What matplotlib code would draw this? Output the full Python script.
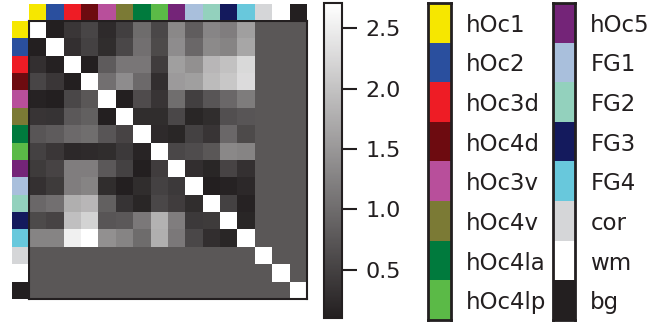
import numpy as np
import matplotlib
matplotlib.use('Agg')
import matplotlib.pyplot as plt
from matplotlib.colors import LinearSegmentedColormap, to_rgb

# region names and their colours (same order as the matrix rows/cols)
regions = ['hOc1', 'hOc2', 'hOc3d', 'hOc4d', 'hOc3v', 'hOc4v', 'hOc4la', 'hOc4lp',
           'hOc5', 'FG1', 'FG2', 'FG3', 'FG4', 'cor', 'wm', 'bg']
region_colors = ['#f6e700', '#2a4f9e', '#ee1c25', '#6d0b10', '#b84f9b', '#7b7a35',
                 '#007a3d', '#5bba47', '#742478', '#a9bfdc', '#93d1bd', '#141a5d',
                 '#68c8dc', '#d5d6d8', '#ffffff', '#231f20']

# pairwise values between the 13 cortical areas (diagonal empty)
nan = np.nan
area_values = [
    [nan, .10, .38, .55, .24, .48, 1.00, .57, 1.33, .83, 1.30, 1.21, 1.59],
    [.10, nan, .30, .50, .27, .57, 1.04, .60, 1.38, .95, 1.35, 1.28, 1.68],
    [.30, .14, nan, .10, .81, 1.12, 1.12, .45, 1.59, 1.42, 1.87, 1.99, 2.27],
    [.55, .38, .10, nan, 1.04, 1.38, .97, .29, 1.54, 1.59, 1.92, 2.06, 2.30],
    [.15, .12, .57, .76, nan, .10, .62, .36, 1.02, .48, .74, .95, 1.19],
    [.36, .34, .78, .86, .10, nan, .27, .27, .57, .19, .27, .67, .74],
    [.74, .81, .97, 1.02, .74, .53, nan, .24, .19, .50, .36, .95, .60],
    [.50, .38, .22, .24, .27, .41, .17, nan, .57, .64, .76, 1.33, 1.28],
    [.43, .53, 1.21, 1.21, .78, .50, .10, .45, nan, .29, .19, .53, .31],
    [.31, .43, 1.21, 1.28, .27, .12, .27, .50, .41, nan, .12, .15, .22],
    [.95, 1.04, 1.78, 1.87, .86, .34, .19, .57, .45, .27, nan, .50, .15],
    [.60, .53, 1.97, 2.20, .74, .78, 1.14, 1.82, 1.21, .41, .43, nan, .19],
    [1.28, 1.28, 2.53, 2.71, 1.42, 1.28, 1.00, 1.78, 1.14, .57, .29, .19, nan],
]
# cor / wm / bg rows and columns all share one value
other_value = 0.76

cbar_ticks = [0.5, 1.0, 1.5, 2.0, 2.5]

dark = '#231f20'

# build full 16x16 matrix
n = len(regions)
mat = np.full((n, n), other_value)
mat[:13, :13] = np.array(area_values)
np.fill_diagonal(mat, np.nan)

cmap = LinearSegmentedColormap.from_list('printgray', [dark, '#ffffff'])
cmap.set_bad('white')

fig = plt.figure(figsize=(6.51, 3.25), dpi=100)

# main matrix
ax = fig.add_axes([29/651, 26/325, 278/651, 278/325])
im = ax.imshow(mat, cmap=cmap, vmin=np.nanmin(mat), vmax=np.nanmax(mat),
               interpolation='nearest', aspect='auto')
ax.set_xticks([])
ax.set_yticks([])
for s in ax.spines.values():
    s.set_color(dark)
    s.set_linewidth(1.5)

rgb = np.array([to_rgb(c) for c in region_colors])

# colour strip on top
ax_top = fig.add_axes([29/651, 305/325, 278/651, 16/325])
ax_top.imshow(rgb[np.newaxis, :, :], aspect='auto', interpolation='nearest')
ax_top.axis('off')

# colour strip on the left
ax_left = fig.add_axes([12/651, 26/325, 16/651, 278/325])
ax_left.imshow(rgb[:, np.newaxis, :], aspect='auto', interpolation='nearest')
ax_left.axis('off')

# colorbar
cax = fig.add_axes([324/651, 7/325, 18/651, 315/325])
cb = fig.colorbar(im, cax=cax, ticks=cbar_ticks)
cb.outline.set_edgecolor(dark)
cb.outline.set_linewidth(1.5)
cax.tick_params(length=11, width=1.5, color=dark, labelsize=16, labelcolor=dark, pad=6)

# two legend columns
legend_boxes = [(428/651, 23/651, 0, 8), (553/651, 22/651, 8, 16)]
for left, width, i0, i1 in legend_boxes:
    lax = fig.add_axes([left, 5/325, width, 317/325])
    lax.imshow(rgb[i0:i1, np.newaxis, :], aspect='auto', interpolation='nearest')
    lax.set_xticks([])
    lax.yaxis.tick_right()
    lax.set_yticks(range(i1 - i0))
    lax.set_yticklabels(regions[i0:i1], fontsize=16.5, color=dark)
    lax.tick_params(axis='y', length=0, pad=11)
    for s in lax.spines.values():
        s.set_color(dark)
        s.set_linewidth(2)

fig.savefig('out.png', dpi=100)
